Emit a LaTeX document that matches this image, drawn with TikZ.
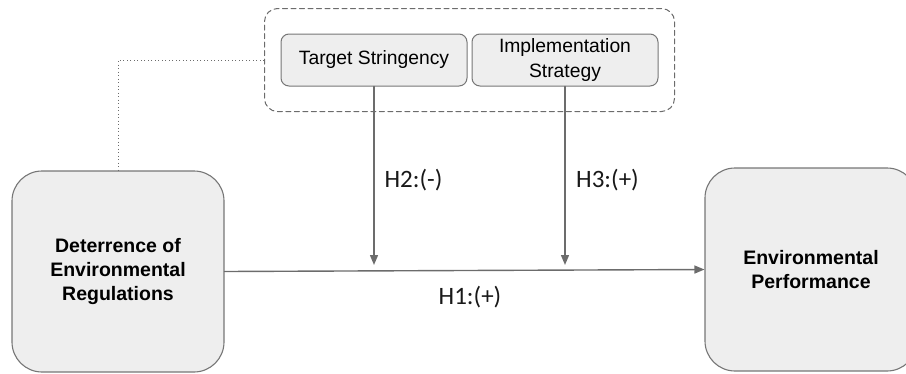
\documentclass[tikz,border=0pt]{standalone}
\usepackage{fontspec}
\setmainfont{Liberation Sans}
\newfontfamily\hypfont{Carlito}
\usetikzlibrary{arrows.meta,positioning,fit}

\definecolor{boxfill}{HTML}{EEEEEE}
\definecolor{boxline}{HTML}{767676}
\definecolor{linkgray}{HTML}{6C6C6C}

\begin{document}
\begin{tikzpicture}[
    x=1pt, y=-1pt, >={Triangle[length=10pt,width=8pt]}, line cap=round,
    bigbox/.style  ={draw=boxline, fill=boxfill, line width=1.1pt, rounded corners=30pt, align=center,
                     minimum width=212pt, inner sep=0pt, font=\bfseries\fontsize{19.5}{24}\selectfont},
    modbox/.style  ={draw=boxline, fill=boxfill, line width=1pt, rounded corners=8pt, align=center,
                     minimum width=186pt, minimum height=52pt, inner sep=0pt, font=\fontsize{19.3}{25}\selectfont},
    grpbox/.style  ={draw=linkgray, dash pattern=on 5pt off 3.5pt, line width=1pt, rounded corners=13pt,
                     inner xsep=16pt, inner ysep=25pt},
    link/.style    ={draw=linkgray, line width=1.4pt},
    hyp/.style     ={font=\hypfont\fontsize{25}{30}\selectfont, text=black!90, inner sep=0pt}
]
\useasboundingbox (0,0) rectangle (906,373);

% main constructs
\node[bigbox, minimum height=201pt] (dr) at (118, 271.5) {Deterrence of\\Environmental\\Regulations};
\node[bigbox, minimum height=203pt] (ep) at (811, 269.5) {Environmental\\Performance};

% moderators
\node[modbox] (ts) at (374, 60) {Target Stringency};
\node[modbox] (is) at (565, 60) {Implementation\\Strategy};
\node[grpbox, fit=(ts)(is)] (grp) {};

% link from regulation to moderator group
\draw[linkgray, line width=1pt, dash pattern=on 1pt off 2.5pt, line cap=butt] (grp.west) -| (dr.north);

% H1
\draw[link, ->] (dr.east) -- (ep.west);
\node[hyp] (h1) at (470, 297) {H1:(+)};

% H2, H3 (moderation)
\coordinate (m2) at (374, 265);
\coordinate (m3) at (565, 265);
\draw[link, ->] (ts.south) -- (m2);
\draw[link, ->] (is.south) -- (m3);
\node[hyp] (h2) at (413.5, 180) {H2:(-)};
\node[hyp] (h3) at (607.5, 180) {H3:(+)};
\end{tikzpicture}
\end{document}
